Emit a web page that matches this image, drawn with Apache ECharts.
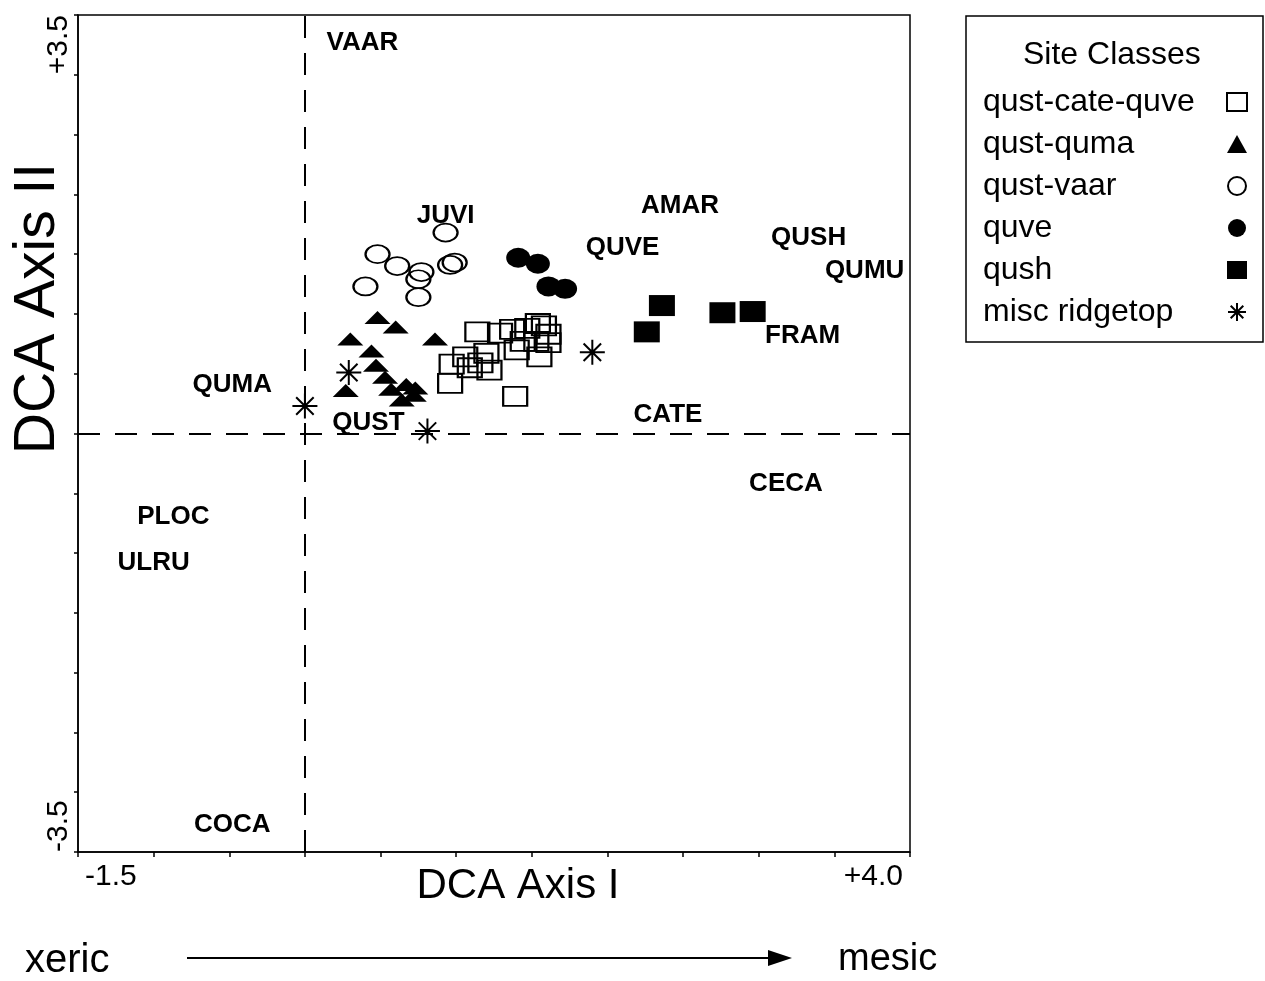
<!DOCTYPE html>
<html>
<head>
<meta charset="utf-8">
<title>DCA ordination of site classes</title>
<script src="https://cdn.jsdelivr.net/npm/echarts@6/dist/echarts.min.js"></script>
<style>
  html, body { margin: 0; padding: 0; background: #ffffff; }
  #chart { width: 1265px; height: 981px; }
</style>
</head>
<body>
<div id="chart"></div>
<script>
// Site scores on DCA axes I and II, grouped by site class
const qustCateQuve = [
  [1.14, 0.85], [1.29, 0.84], [1.37, 0.87], [1.47, 0.88], [1.54, 0.92],
  [1.58, 0.90], [1.61, 0.83], [1.44, 0.77], [1.53, 0.77], [1.61, 0.76],
  [1.40, 0.70], [1.55, 0.64], [1.06, 0.64], [1.20, 0.67], [1.16, 0.59],
  [0.97, 0.58], [1.09, 0.55], [1.22, 0.53], [0.96, 0.42], [1.39, 0.31]
];
const qustQuma = [
  [0.48, 0.97], [0.60, 0.89], [0.30, 0.79], [0.86, 0.79], [0.44, 0.69],
  [0.47, 0.57], [0.53, 0.47], [0.27, 0.36], [0.57, 0.37], [0.67, 0.41],
  [0.73, 0.38], [0.64, 0.28], [0.72, 0.32]
];
const qustVaar = [
  [0.93, 1.68], [0.48, 1.50], [0.61, 1.40], [0.77, 1.35], [0.75, 1.29],
  [0.96, 1.41], [0.99, 1.43], [0.40, 1.23], [0.75, 1.14]
];
const quve = [[1.41, 1.47], [1.54, 1.42], [1.61, 1.23], [1.72, 1.21]];
const qush = [[2.36, 1.07], [2.26, 0.85], [2.76, 1.01], [2.96, 1.02]];
const miscRidgetop = [[0.00, 0.23], [0.29, 0.51], [0.81, 0.02], [1.90, 0.68]];

// Species scores
const speciesNames = ['VAAR', 'JUVI', 'AMAR', 'QUVE', 'QUSH', 'QUMU', 'FRAM',
  'QUMA', 'QUST', 'CATE', 'CECA', 'PLOC', 'ULRU', 'COCA'];
const speciesScores = [
  [0.38, 3.27], [0.93, 1.82], [2.48, 1.90], [2.10, 1.55], [3.33, 1.64],
  [3.70, 1.36], [3.29, 0.82], [-0.48, 0.41], [0.42, 0.09], [2.40, 0.16],
  [3.18, -0.42], [-0.87, -0.70], [-1.00, -1.08], [-0.48, -3.27]
];

// Axis extents and the labels printed at their ends
const xMin = -1.5, xMax = 4.0, yMin = -3.5, yMax = 3.5;
const xEndLabels = ['-1.5', '+4.0'];
const yEndLabels = ['-3.5', '+3.5'];
const classNames = ['qust-cate-quve', 'qust-quma', 'qust-vaar', 'quve', 'qush', 'misc ridgetop'];

const FONT = "'Liberation Sans', Arial, Helvetica, sans-serif";
const INK = '#000000';
const ASTERISK = 'path://M10 0V20M0 10H20M3 3L17 17M17 3L3 17';

const openStyle = { color: 'rgba(0,0,0,0)', borderColor: INK, borderWidth: 2, opacity: 1 };
const solidStyle = { color: INK, borderColor: INK, borderWidth: 0, opacity: 1 };

function endLabel(lo, hi, labels) {
  return function (v) {
    if (Math.abs(v - lo) < 1e-9) return labels[0];
    if (Math.abs(v - hi) < 1e-9) return labels[1];
    return '';
  };
}

const chart = echarts.init(document.getElementById('chart'), null, { renderer: 'canvas' });

chart.setOption({
  animation: false,
  backgroundColor: '#ffffff',
  textStyle: { fontFamily: FONT, color: INK },
  title: {
    text: 'Site Classes',
    left: 1023,
    top: 39,
    padding: 0,
    textStyle: { fontFamily: FONT, fontSize: 32, fontWeight: 'normal', color: INK }
  },
  grid: {
    left: 78, right: 355, top: 15, bottom: 129,
    outerBoundsMode: 'none',
    containLabel: false,
    show: true, borderColor: INK, borderWidth: 1.5, backgroundColor: 'rgba(0,0,0,0)'
  },
  legend: {
    orient: 'vertical',
    left: 966,
    top: 16,
    align: 'right',
    padding: [70, 15, 14, 17],
    itemGap: 10,
    itemWidth: 20,
    itemHeight: 18,
    borderColor: INK,
    borderWidth: 1.5,
    borderRadius: 0,
    selectedMode: false,
    data: classNames,
    formatter: function (name) { return '{t|' + name + '}'; },
    textStyle: {
      fontFamily: FONT, fontSize: 32, color: INK,
      rich: { t: { width: 239, align: 'left', fontFamily: FONT, fontSize: 32, lineHeight: 30, color: INK } }
    }
  },
  xAxis: {
    type: 'value',
    min: xMin, max: xMax, interval: 0.5,
    splitLine: { show: false },
    axisLine: { onZero: false, lineStyle: { color: INK, width: 1.5 } },
    axisTick: { show: true, length: 5, lineStyle: { color: INK, width: 1.5 } },
    axisLabel: {
      formatter: endLabel(xMin, xMax, xEndLabels),
      fontFamily: FONT, fontSize: 30, color: INK, margin: 10,
      padding: [0, 7, 0, 7],
      showMinLabel: true, showMaxLabel: true,
      alignMinLabel: 'left', alignMaxLabel: 'right'
    },
    name: 'DCA Axis I',
    nameLocation: 'middle',
    nameGap: 13,
    nameMoveOverlap: false,
    nameTextStyle: { fontFamily: FONT, fontSize: 42, lineHeight: 42, color: INK, padding: [0, 0, 0, 48] }
  },
  yAxis: {
    type: 'value',
    min: yMin, max: yMax, interval: 0.5,
    splitLine: { show: false },
    axisLine: { onZero: false, lineStyle: { color: INK, width: 1.5 } },
    axisTick: { show: true, length: 4, lineStyle: { color: INK, width: 1.5 } },
    axisLabel: {
      formatter: endLabel(yMin, yMax, yEndLabels),
      fontFamily: FONT, fontSize: 30, color: INK, margin: 4, rotate: 90,
      showMinLabel: true, showMaxLabel: true,
      alignMinLabel: 'left', alignMaxLabel: 'right'
    },
    name: 'DCA Axis II',
    nameLocation: 'middle',
    nameGap: 13,
    nameMoveOverlap: false,
    nameTextStyle: { fontFamily: FONT, fontSize: 57, lineHeight: 54, color: INK, padding: [0, 0, 0, 250] }
  },
  series: [
    {
      // species labels plus the zero reference lines
      name: 'species',
      type: 'scatter',
      silent: true,
      z: 1,
      symbolSize: 1,
      itemStyle: { color: 'rgba(0,0,0,0)', opacity: 1 },
      data: speciesNames.map(function (n, i) { return { name: n, value: speciesScores[i] }; }),
      label: {
        show: true, position: 'inside', formatter: '{b}', opacity: 1,
        fontFamily: FONT, fontSize: 26, fontWeight: 'bold', color: INK
      },
      markLine: {
        silent: true,
        symbol: 'none',
        label: { show: false },
        lineStyle: { color: INK, width: 2, type: [22, 15], opacity: 1 },
        data: [{ xAxis: 0 }, { yAxis: 0 }]
      }
    },
    { name: classNames[0], type: 'scatter', z: 3, symbol: 'rect', symbolSize: [24, 19], itemStyle: openStyle, data: qustCateQuve },
    { name: classNames[1], type: 'scatter', z: 3, symbol: 'triangle', symbolSize: [26, 13], itemStyle: solidStyle, data: qustQuma },
    { name: classNames[2], type: 'scatter', z: 3, symbol: 'circle', symbolSize: [24, 18], itemStyle: openStyle, data: qustVaar },
    { name: classNames[3], type: 'scatter', z: 3, symbol: 'circle', symbolSize: [24, 20], itemStyle: solidStyle, data: quve },
    { name: classNames[4], type: 'scatter', z: 3, symbol: 'rect', symbolSize: [26, 21], itemStyle: solidStyle, data: qush },
    { name: classNames[5], type: 'scatter', z: 3, symbol: ASTERISK, symbolSize: [25, 25], itemStyle: openStyle, data: miscRidgetop }
  ],
  graphic: [
    { type: 'text', left: 25, top: 941, style: { text: 'xeric', fontFamily: FONT, fontSize: 40, fill: INK } },
    { type: 'text', left: 838, top: 941, style: { text: 'mesic', fontFamily: FONT, fontSize: 38, fill: INK } },
    { type: 'line', shape: { x1: 187, y1: 958, x2: 776, y2: 958 }, style: { stroke: INK, lineWidth: 2 } },
    { type: 'polygon', shape: { points: [[768, 950], [792, 958], [768, 966]] }, style: { fill: INK } }
  ]
});
</script>
</body>
</html>
